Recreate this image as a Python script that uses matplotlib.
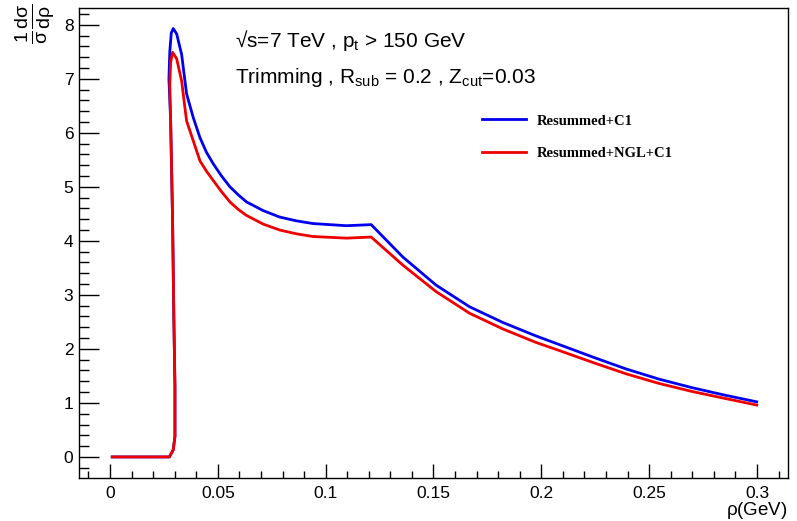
import matplotlib
matplotlib.use("Agg")
import matplotlib.pyplot as plt
from matplotlib.ticker import MultipleLocator

plt.rcParams['font.family'] = ['Liberation Sans', 'DejaVu Sans']
plt.rcParams['mathtext.fontset'] = 'custom'
plt.rcParams['mathtext.rm'] = 'Liberation Sans'
plt.rcParams['mathtext.it'] = 'Liberation Sans'
plt.rcParams['mathtext.bf'] = 'Liberation Sans:bold'

# rho values and distributions
rho_c1 = [0.001, 0.0275, 0.0293, 0.0301, 0.0301, 0.0296, 0.0290, 0.0281, 0.0273, 0.0277,
          0.0284, 0.0293, 0.0309, 0.0332, 0.0347, 0.0355, 0.0386, 0.0417, 0.0447, 0.0478,
          0.0517, 0.0556, 0.0595, 0.0633, 0.0710, 0.0787, 0.0864, 0.0941, 0.1096, 0.1211,
          0.1358, 0.1512, 0.1667, 0.1821, 0.1975, 0.2083, 0.2238, 0.2392, 0.2546, 0.2701,
          0.2855, 0.2999]
dist_c1 = [0.0, 0.0, 0.13, 0.38, 1.30, 2.53, 4.38, 6.22, 7.00, 7.50,
           7.85, 7.93, 7.83, 7.45, 6.97, 6.72, 6.28, 5.91, 5.64, 5.43,
           5.20, 5.00, 4.85, 4.72, 4.56, 4.44, 4.37, 4.32, 4.28, 4.30,
           3.70, 3.18, 2.78, 2.49, 2.24, 2.08, 1.85, 1.63, 1.44, 1.28,
           1.14, 1.02]

rho_ngl = [0.001, 0.0275, 0.0293, 0.0301, 0.0301, 0.0296, 0.0290, 0.0281, 0.0277, 0.0281,
           0.0290, 0.0309, 0.0332, 0.0347, 0.0355, 0.0386, 0.0417, 0.0447, 0.0478, 0.0517,
           0.0556, 0.0595, 0.0633, 0.0710, 0.0787, 0.0864, 0.0941, 0.1096, 0.1211, 0.1358,
           0.1512, 0.1667, 0.1821, 0.1975, 0.2083, 0.2238, 0.2392, 0.2546, 0.2701, 0.2855,
           0.2999]
dist_ngl = [0.0, 0.0, 0.13, 0.38, 1.30, 2.53, 4.38, 6.22, 6.90, 7.30,
            7.49, 7.37, 6.96, 6.47, 6.22, 5.85, 5.48, 5.29, 5.12, 4.91,
            4.72, 4.58, 4.47, 4.31, 4.20, 4.13, 4.08, 4.05, 4.07, 3.55,
            3.06, 2.66, 2.37, 2.12, 1.97, 1.75, 1.54, 1.36, 1.21, 1.08,
            0.96]

labels = ['Resummed+C1', 'Resummed+NGL+C1']
colors = ['#0000ee', '#ee0000']

fig = plt.figure(figsize=(7.97, 5.21), dpi=100)
ax = fig.add_axes([79/797, 1-478/521, (788-79)/797, (478-8)/521])

ax.plot(rho_c1, dist_c1, color=colors[0], lw=2.0, label=labels[0])
ax.plot(rho_ngl, dist_ngl, color=colors[1], lw=2.0, label=labels[1])

ax.set_xlim(-0.0144, 0.3144)
ax.set_ylim(-0.39, 8.31)
ax.xaxis.set_minor_locator(MultipleLocator(0.01))
ax.yaxis.set_major_locator(MultipleLocator(1))
ax.yaxis.set_minor_locator(MultipleLocator(0.2))
ax.set_xticks([0, 0.05, 0.1, 0.15, 0.2, 0.25, 0.3])
ax.set_xticklabels(['0', '0.05', '0.1', '0.15', '0.2', '0.25', '0.3'])
ax.tick_params(which='both', direction='in', labelsize=12.5, width=1.0)
ax.tick_params(axis='y', which='major', length=14.4, pad=4)
ax.tick_params(axis='y', which='minor', length=7.2)
ax.tick_params(axis='x', which='major', length=10.3, pad=6)
ax.tick_params(axis='x', which='minor', length=5.3)
for s in ax.spines.values():
    s.set_linewidth(1.0)

# axis titles, ROOT style
fig.text(788/797, 1-515/521, r'$\rho$(GeV)', ha='right', va='baseline', fontsize=13.5)
fig.text(35/797, 1-4/521, r'$\frac{1}{\sigma}\frac{d\sigma}{d\rho}$', rotation=90,
         ha='center', va='top', fontsize=20)

ax.text(235/797, 1-47/521, '√s=7 TeV , p$_{\\mathrm{t}}$ > 150 GeV',
        transform=fig.transFigure, fontsize=15)
ax.text(235/797, 1-83/521, 'Trimming , R$_{\\mathrm{sub}}$ = 0.2 , Z$_{\\mathrm{cut}}$=0.03',
        transform=fig.transFigure, fontsize=15)

ax.legend(loc='upper left', bbox_to_anchor=(475/797, 1-107/521),
          bbox_transform=fig.transFigure, frameon=False, borderpad=0,
          handlelength=3.0, handletextpad=0.75, labelspacing=1.35,
          prop={'family': 'Liberation Serif', 'weight': 'bold', 'size': 10.5})

fig.savefig('out.png', dpi=100)
